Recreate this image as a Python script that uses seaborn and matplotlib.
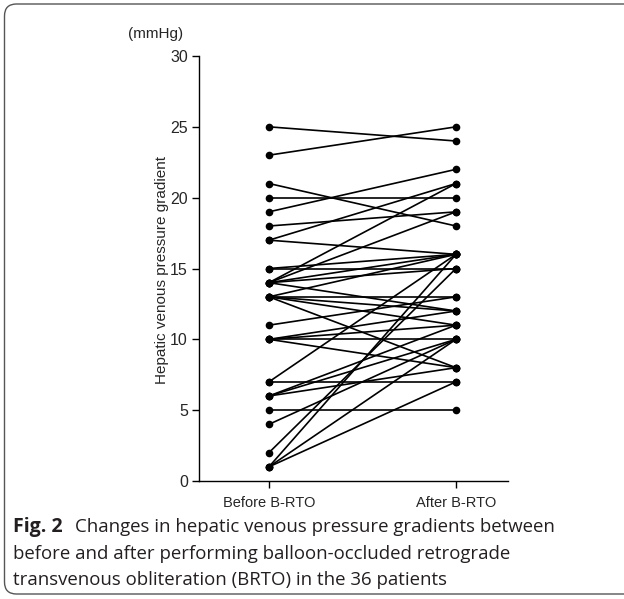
import matplotlib
matplotlib.use("Agg")
import matplotlib.pyplot as plt
from matplotlib.patches import FancyBboxPatch
import seaborn as sns
import pandas as pd


# hepatic venous pressure gradient (mmHg) per patient
hvpg_before = [25, 23, 21, 20, 19, 18, 17, 17, 15, 15, 14, 14, 14, 14, 14, 13, 13, 13,
               13, 13, 11, 10, 10, 10, 10, 7, 7, 6, 6, 6, 5, 4, 2, 1, 1, 1]
hvpg_after = [24, 25, 18, 20, 22, 19, 21, 16, 15, 16, 21, 19, 16, 15, 12, 16, 13, 12,
              11, 8, 13, 12, 11, 10, 8, 7, 16, 11, 10, 8, 5, 10, 15, 16, 10, 7]
stages = ["Before B-RTO", "After B-RTO"]
y_ticks = [0, 5, 10, 15, 20, 25, 30]

rows = []
for i, (b, a) in enumerate(zip(hvpg_before, hvpg_after)):
	rows.append({"patient": i, "stage": stages[0], "hvpg": b})
	rows.append({"patient": i, "stage": stages[1], "hvpg": a})
df = pd.DataFrame(rows)

sns.set_style("ticks")
plt.rcParams["font.family"] = ["Liberation Sans", "DejaVu Sans"]

fig = plt.figure(figsize=(6.24, 5.99), dpi=100)
ax = fig.add_axes([0.3189, 0.197, 0.4952, 0.7095])

sns.lineplot(data=df, x="stage", y="hvpg", units="patient", estimator=None,
	color="black", linewidth=1.2, marker="o", markersize=5.5,
	markeredgewidth=0, ax=ax, legend=False)

ax.set_xlim(-0.374, 1.278)
ax.set_ylim(0, 30)
ax.set_yticks(y_ticks)
ax.set_xlabel("")
ax.set_ylabel("Hepatic venous pressure gradient", fontsize=11)
ax.yaxis.set_label_coords(-0.098, 0.497)
ax.tick_params(axis="both", labelsize=11.5, length=5, width=1, color="black")
ax.tick_params(axis="y", pad=3)
ax.tick_params(axis="x", labelsize=10.5, pad=6)
sns.despine(ax=ax)
for s in ("left", "bottom"):
	ax.spines[s].set_linewidth(1)
	ax.spines[s].set_color("black")

fig.text(128 / 624, 1 - 34 / 599, "(mmHg)", fontsize=11, va="center", ha="left")

# caption
cap_font = ["Open Sans", "DejaVu Sans"]
cap_col = "#231f20"
fig.text(13 / 624, 1 - 527 / 599, "Fig. 2", fontsize=14, fontweight="bold",
	family=cap_font, va="center", ha="left", color=cap_col)
fig.text(75 / 624, 1 - 527 / 599, "Changes in hepatic venous pressure gradients between",
	fontsize=13.4, family=cap_font, va="center", ha="left", color=cap_col)
fig.text(13 / 624, 1 - 554 / 599, "before and after performing balloon-occluded retrograde",
	fontsize=13.4, family=cap_font, va="center", ha="left", color=cap_col)
fig.text(13 / 624, 1 - 580 / 599, "transvenous obliteration (BRTO) in the 36 patients",
	fontsize=13.4, family=cap_font, va="center", ha="left", color=cap_col)

# rounded frame around the figure, open on the right
frame = FancyBboxPatch((0.045, 0.05), 6.4, 5.90, boxstyle="round,pad=0,rounding_size=0.12",
	transform=fig.dpi_scale_trans, fill=False, edgecolor="#555555", linewidth=1)
fig.patches.append(frame)

fig.savefig("out.png", dpi=100)
